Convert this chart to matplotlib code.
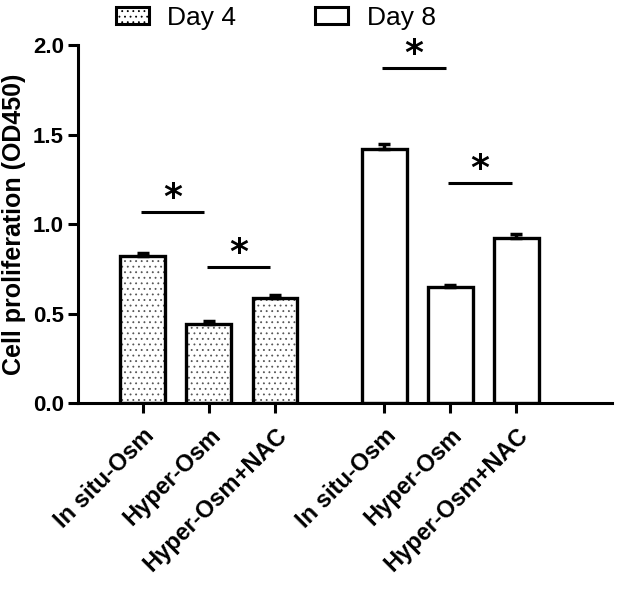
import matplotlib
matplotlib.use("Agg")
import matplotlib.pyplot as plt
import numpy as np
from matplotlib.patches import Patch

plt.rcParams['font.family'] = ['Liberation Sans', 'DejaVu Sans']
plt.rcParams['hatch.linewidth'] = 0.6

groups = ["Day 4", "Day 8"]
conditions = ["In situ-Osm", "Hyper-Osm", "Hyper-Osm+NAC"]
day4 = [0.82, 0.445, 0.587]
day8 = [1.42, 0.648, 0.925]
err4 = [0.02, 0.012, 0.015]
err8 = [0.025, 0.015, 0.02]
# significance brackets: (group, i, j, height)
sig = [(0, 0, 1, 1.07), (0, 1, 2, 0.76), (1, 0, 1, 1.87), (1, 1, 2, 1.23)]

fig = plt.figure(figsize=(6.17, 5.93), dpi=100)
ax = fig.add_axes([0.126, 0.320, 0.866, 0.604])

x4 = np.arange(3)
x8 = np.arange(3) + 3.65
w = 0.68
lw = 2.4
# hatch layer (grey dots) then outlines
ax.bar(x4, day4, w, color='white', edgecolor='#555555', linewidth=0, hatch='...', zorder=2)
ax.bar(x4, day4, w, color='none', edgecolor='black', linewidth=lw, zorder=2.5)
ax.bar(x8, day8, w, color='white', edgecolor='black', linewidth=lw, zorder=2)
ax.errorbar(x4, day4, yerr=[np.zeros(3), err4], fmt='none', ecolor='black', elinewidth=2.5, capsize=4, capthick=2.5, zorder=3)
ax.errorbar(x8, day8, yerr=[np.zeros(3), err8], fmt='none', ecolor='black', elinewidth=2.5, capsize=4, capthick=2.5, zorder=3)

xs = [x4, x8]
for g, i, j, h in sig:
    xa = xs[g][i] - 0.03
    xb = xs[g][j] - 0.07
    ax.plot([xa, xb], [h, h], color='black', lw=2.2, solid_capstyle='butt')
    ax.annotate('*', xy=((xa + xb) / 2, h), xytext=(0, 10), textcoords='offset points',
                ha='center', va='center', fontsize=26, fontweight='bold', family=['DejaVu Sans'],
                annotation_clip=False)

ax.set_xlim(-0.985, 7.1)
ax.set_ylim(0, 2.0)
ax.set_yticks([0.0, 0.5, 1.0, 1.5, 2.0])
ax.set_yticklabels(['0.0', '0.5', '1.0', '1.5', '2.0'], fontsize=16, fontweight='bold')
ax.set_xticks(list(x4) + list(x8))
ax.set_xticklabels(conditions + conditions, rotation=45, ha='right', rotation_mode='anchor', fontsize=17, fontweight='bold')
ax.set_ylabel('Cell proliferation (OD450)', fontsize=18, fontweight='bold', labelpad=5)

for s in ['top', 'right']:
    ax.spines[s].set_visible(False)
for s in ['left', 'bottom']:
    ax.spines[s].set_linewidth(2.2)
ax.tick_params(axis='both', width=2.2, length=7)
ax.tick_params(axis='x', pad=8)
ax.tick_params(axis='y', pad=3)

h1 = Patch(facecolor='white', edgecolor='black', linewidth=2.2, hatch='...')
h2 = Patch(facecolor='white', edgecolor='black', linewidth=2.2)
fig.legend(handles=[h1, h2], labels=groups, loc='upper left', bbox_to_anchor=(0.149, 1.03), ncol=2,
           frameon=False, fontsize=19, handlelength=1.25, handleheight=0.65, columnspacing=3.0, handletextpad=0.7)

fig.savefig('out.png', dpi=100)
